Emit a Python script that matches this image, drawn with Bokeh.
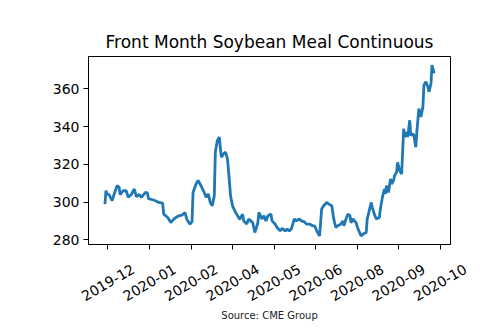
import math
import pandas as pd
from bokeh.plotting import figure
from bokeh.layouts import column
from bokeh.models import Range1d, FixedTicker
from bokeh.core.properties import value
from bokeh.embed import file_html
from bokeh.resources import INLINE

title_text = "Front Month Soybean Meal Continuous"
source_text = "Source: CME Group"

dates = [
    "2019-11-28", "2019-11-29", "2019-11-30", "2019-12-02", "2019-12-05", "2019-12-07",
    "2019-12-10", "2019-12-12", "2019-12-13", "2019-12-16", "2019-12-19", "2019-12-21",
    "2019-12-24", "2019-12-27", "2019-12-29", "2020-01-01", "2020-01-03", "2020-01-07",
    "2020-01-09", "2020-01-10", "2020-01-14", "2020-01-17", "2020-01-20", "2020-01-24",
    "2020-01-25", "2020-01-29", "2020-02-01", "2020-02-04", "2020-02-06", "2020-02-09",
    "2020-02-12", "2020-02-15", "2020-02-17", "2020-02-20", "2020-02-22", "2020-02-23",
    "2020-02-26", "2020-02-28", "2020-03-02", "2020-03-05", "2020-03-07", "2020-03-09",
    "2020-03-11", "2020-03-13", "2020-03-15", "2020-03-16", "2020-03-18", "2020-03-20",
    "2020-03-21", "2020-03-22", "2020-03-24", "2020-03-26", "2020-03-28", "2020-03-30",
    "2020-03-31", "2020-04-02", "2020-04-05", "2020-04-07", "2020-04-09", "2020-04-12",
    "2020-04-13", "2020-04-16", "2020-04-18", "2020-04-20", "2020-04-22", "2020-04-24",
    "2020-04-27", "2020-04-28", "2020-05-01", "2020-05-03", "2020-05-05", "2020-05-07",
    "2020-05-10", "2020-05-11", "2020-05-14", "2020-05-16", "2020-05-19", "2020-05-21",
    "2020-05-24", "2020-05-26", "2020-05-28", "2020-05-30", "2020-06-02", "2020-06-04",
    "2020-06-07", "2020-06-09", "2020-06-12", "2020-06-14", "2020-06-17", "2020-06-20",
    "2020-06-22", "2020-06-25", "2020-06-27", "2020-06-29", "2020-07-01", "2020-07-04",
    "2020-07-06", "2020-07-09", "2020-07-11", "2020-07-13", "2020-07-15", "2020-07-18",
    "2020-07-20", "2020-07-21", "2020-07-23", "2020-07-25", "2020-07-27", "2020-07-28",
    "2020-07-30", "2020-08-02", "2020-08-04", "2020-08-07", "2020-08-09", "2020-08-12",
    "2020-08-13", "2020-08-15", "2020-08-17", "2020-08-18", "2020-08-20", "2020-08-22",
    "2020-08-25", "2020-08-26", "2020-08-28", "2020-08-30", "2020-08-31", "2020-09-01",
    "2020-09-03", "2020-09-05", "2020-09-06", "2020-09-08", "2020-09-09", "2020-09-11",
    "2020-09-12", "2020-09-14", "2020-09-16", "2020-09-18", "2020-09-19", "2020-09-21",
    "2020-09-22", "2020-09-24", "2020-09-25", "2020-09-27", "2020-09-28", "2020-09-30",
    "2020-10-01", "2020-10-03", "2020-10-04", "2020-10-05", "2020-10-07", "2020-10-08",
    "2020-10-10", "2020-10-12", "2020-10-13", "2020-10-15", "2020-10-16", "2020-10-18",
]

prices = [
    298.9, 306.0, 304.3, 304.0, 300.7, 304.0,
    308.7, 307.8, 304.0, 306.0, 306.0, 302.5,
    304.0, 306.9, 302.9, 304.0, 302.5, 305.1,
    304.7, 301.8, 301.2, 300.7, 299.8, 299.4,
    293.6, 291.8, 289.1, 290.9, 291.8, 292.7,
    293.0, 294.5, 290.6, 288.3, 289.5, 305.1,
    309.6, 311.4, 308.5, 305.1, 302.5, 304.3,
    299.8, 298.0, 303.4, 326.5, 332.7, 334.5,
    328.5, 323.8, 325.5, 326.5, 322.9, 310.5,
    303.4, 298.0, 294.5, 292.7, 290.9, 293.6,
    290.0, 288.3, 291.0, 290.0, 289.0, 283.8,
    289.0, 294.5, 291.0, 292.7, 290.0, 292.7,
    293.6, 290.0, 288.3, 286.5, 284.7, 286.0,
    284.7, 285.6, 284.7, 285.6, 291.0, 290.0,
    291.0, 290.0, 289.5, 288.3, 288.3, 287.4,
    287.4, 283.8, 282.0, 296.3, 298.0, 299.8,
    298.9, 298.0, 290.9, 286.5, 287.4, 288.3,
    290.0, 287.4, 291.0, 293.6, 292.7, 289.0,
    291.0, 289.0, 285.6, 282.0, 283.0, 283.8,
    291.0, 295.4, 299.8, 297.2, 293.6, 291.0,
    291.8, 296.3, 302.5, 306.9, 304.3, 308.7,
    305.1, 312.3, 309.6, 311.4, 314.0, 315.8,
    321.1, 316.7, 314.9, 338.9, 334.5, 337.2,
    334.5, 343.4, 335.4, 336.3, 335.4, 329.1,
    337.2, 349.6, 347.0, 345.2, 350.5, 362.0,
    363.8, 361.1, 358.5, 362.9, 372.7, 368.3,
]

tick_dates = [
    "2019-12-01", "2020-01-11", "2020-02-21", "2020-04-02", "2020-05-13",
    "2020-06-23", "2020-08-03", "2020-09-13", "2020-10-24",
]
tick_labels = [
    "2019-12", "2020-01", "2020-02", "2020-04", "2020-05",
    "2020-06", "2020-08", "2020-09", "2020-10",
]
y_ticks = [280, 300, 320, 340, 360]

x = pd.to_datetime(dates)
xmin, xmax = x.min(), x.max()
xpad = (xmax - xmin) * 0.05
ymin, ymax = min(prices), max(prices)
ypad = (ymax - ymin) * 0.05
x_start, x_end = xmin - xpad, xmax + xpad

W = 502
H_MAIN, H_LAB = 254, 82
BL, BR, BT, BB = 88, 52, 56, 10

# ---- main chart -------------------------------------------------------
p = figure(
    width=W, height=H_MAIN,
    output_backend="svg", toolbar_location=None,
    x_axis_type="datetime",
    x_range=Range1d(x_start, x_end),
    y_range=Range1d(ymin - ypad, ymax + ypad),
    min_border_left=BL, min_border_right=BR,
    min_border_top=BT, min_border_bottom=BB,
)
p.background_fill_color = "white"
p.border_fill_color = "white"
p.outline_line_color = "black"
p.outline_line_width = 1
p.grid.visible = False

p.line(x, prices, line_color="#1f77b4", line_width=2.8)

p.title.text = title_text
p.title.align = "center"
p.title.text_font = "DejaVu Sans"
p.title.text_font_size = "17px"
p.title.text_font_style = "normal"
p.title.text_color = "black"

tick_ts = pd.to_datetime(tick_dates)
tick_ms = [int(t.value // 10**6) for t in tick_ts]
p.xaxis.ticker = FixedTicker(ticks=tick_ms)
p.xaxis.major_label_overrides = {t: "" for t in tick_ms}
p.yaxis.ticker = FixedTicker(ticks=y_ticks)

for ax in (p.xaxis, p.yaxis):
    ax.minor_tick_line_color = None
    ax.major_tick_in = 0
    ax.major_tick_out = 5
    ax.major_tick_line_color = "black"
    ax.axis_line_color = "black"
    ax.major_label_text_font = "DejaVu Sans"
    ax.major_label_text_font_size = "14px"
    ax.major_label_text_color = "black"
    ax.major_label_standoff = 4

# ---- strip below: rotated tick labels centred on ticks + source --------
frame_w = W - BL - BR
ms_per_px = (x_end - x_start) / frame_w
q = figure(
    width=W, height=H_LAB,
    output_backend="svg", toolbar_location=None,
    x_range=Range1d(x_start - BL * ms_per_px, x_end + BR * ms_per_px),
    y_range=Range1d(0, H_LAB),
    x_axis_location=None, y_axis_location=None,
    min_border=0,
)
q.outline_line_color = None
q.grid.visible = False
q.background_fill_color = "white"
q.border_fill_color = "white"

# keep each plot's own frame (no frame alignment inside the column)
for fig in (p, q):
    try:
        fig.frame_align = False
    except Exception:
        pass

q.text(x=tick_ts, y=[54] * len(tick_labels), text=tick_labels,
       angle=math.pi / 6, text_align="center", text_baseline="middle",
       text_font=value("DejaVu Sans"), text_font_size=value("14px"),
       text_color="black")

q.text(x=[x_start + (x_end - x_start) / 2], y=[21], text=[source_text],
       text_align="center", text_baseline="middle",
       text_font=value("DejaVu Sans"), text_font_size=value("10px"),
       text_color="#222222")

layout = column(p, q, spacing=0)
open("out.html", "w").write(file_html(layout, INLINE))
